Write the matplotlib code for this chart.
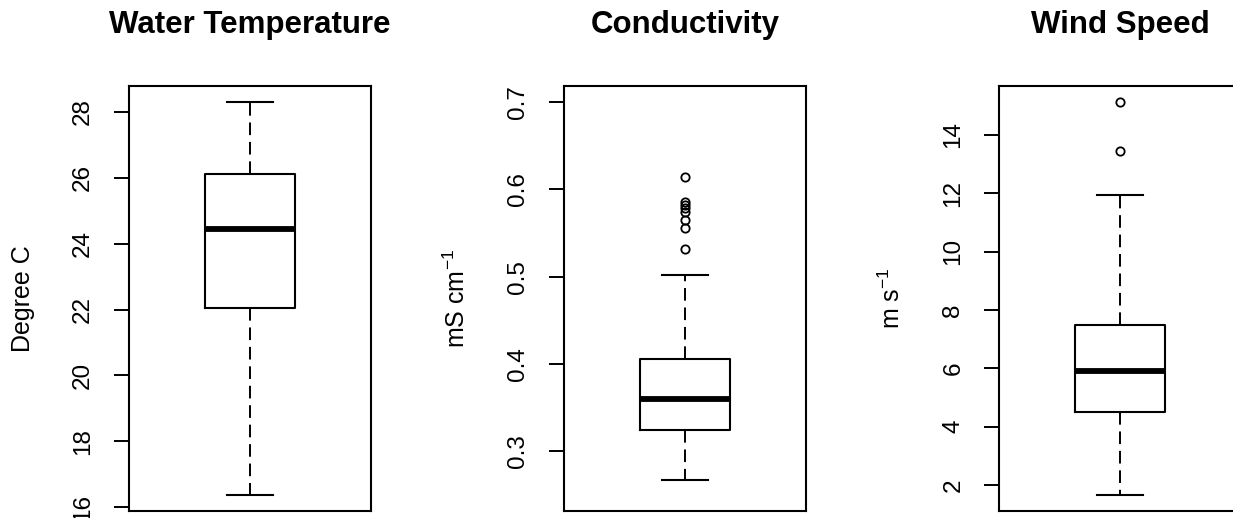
import numpy as np
import matplotlib.pyplot as plt

plt.rcParams['font.family'] = ['Liberation Sans', 'DejaVu Sans']
plt.rcParams['mathtext.default'] = 'regular'

# panel titles, axis labels, ticks
titles = ['Water Temperature', 'Conductivity', 'Wind Speed']
ylabels = ['Degree C', r'mS cm$^{-1}$', r'm s$^{-1}$']
yticks = [[16, 18, 20, 22, 24, 26, 28],
          [0.3, 0.4, 0.5, 0.6, 0.7],
          [2, 4, 6, 8, 10, 12, 14]]
ylims = [(15.88, 28.79), (0.2312, 0.7187), (1.11, 15.68)]

# box statistics
whislo = [16.36, 0.267, 1.66]
q1 = [22.04, 0.324, 4.51]
med = [24.46, 0.3596, 5.91]
q3 = [26.12, 0.4055, 7.49]
whishi = [28.29, 0.502, 11.94]
fliers = [[],
          [0.6147, 0.5853, 0.5822, 0.5784, 0.5745, 0.5650, 0.5555, 0.5314],
          [15.14, 13.45]]

fig = plt.figure(figsize=(12.33, 5.18), dpi=100)
lefts = [0.1046, 0.4574, 0.8102]

for i in range(3):
    ax = fig.add_axes([lefts[i], 0.0135, 0.1963, 0.8205])
    stats = [dict(med=med[i], q1=q1[i], q3=q3[i], whislo=whislo[i],
                  whishi=whishi[i], fliers=fliers[i])]
    ax.bxp(stats, positions=[1], widths=0.372, showfliers=True,
           boxprops=dict(color='black', linewidth=1.5),
           medianprops=dict(color='black', linewidth=4.2, solid_capstyle='butt'),
           whiskerprops=dict(color='black', linewidth=1.4, linestyle=(0, (6.5, 3.5))),
           capprops=dict(color='black', linewidth=1.5),
           capwidths=0.186,
           flierprops=dict(marker='o', markerfacecolor='none', markeredgecolor='black',
                           markersize=6, markeredgewidth=1.3, linestyle='none'))
    ax.set_xlim(0.5, 1.5)
    ax.set_ylim(*ylims[i])
    ax.set_xticks([])
    ax.set_yticks(yticks[i])
    ax.set_yticklabels([('%g' % v) for v in yticks[i]], rotation=90, va='center')
    ax.tick_params(axis='y', length=11, width=1.4, labelsize=17.5, pad=14)
    for s in ax.spines.values():
        s.set_linewidth(1.5)
    ax.set_ylabel(ylabels[i], fontsize=18, labelpad=27)
    ax.set_title(titles[i], fontsize=22.5, fontweight='bold', pad=38)

fig.savefig('out.png', dpi=100)
